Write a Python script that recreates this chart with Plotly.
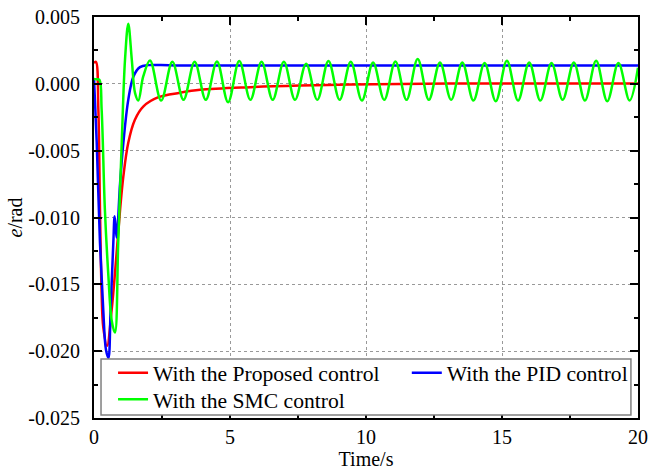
import plotly.graph_objects as go

# values (time in s, error in rad)
proposed_t = [0, 0.07, 0.16, 0.22, 0.28, 0.34, 0.48, 0.65, 0.81, 0.96, 1.08, 1.26, 1.5, 1.81,
              2.37, 3.16, 3.9, 5.74, 7.57, 9.4, 13.1, 20]
proposed_e = [0.00155, 0.00165, -0.0019, -0.0094, -0.0156, -0.0182, -0.0196, -0.0169, -0.0132,
              -0.0094, -0.0069, -0.0044, -0.0027, -0.0017, -0.001, -0.00067, -0.00045, -0.00025,
              -0.00013, -0.00005, 0.00002, 0.00002]

pid_t = [0, 0.1, 0.22, 0.34, 0.44, 0.53, 0.61, 0.71, 0.76, 0.83, 0.96, 1.08, 1.26, 1.45, 1.69,
         2.0, 3.0, 20]
pid_e = [0.00043, -0.0044, -0.0119, -0.0169, -0.0199, -0.0205, -0.0169, -0.0119, -0.0099,
         -0.0115, -0.0074, -0.0044, -0.0012, 0.00055, 0.00125, 0.0014, 0.00137, 0.00137]

smc_t = [0, 0.1, 0.2, 0.28, 0.4, 0.53, 0.65, 0.77, 0.89, 1.02, 1.14, 1.26, 1.39, 1.51, 1.63, 1.81,
         2.06, 2.47, 2.88, 3.29, 3.70, 4.11, 4.52, 4.93, 5.34, 5.75, 6.16, 6.57, 6.98, 7.39,
         7.80, 8.21, 8.62, 9.03, 9.44, 9.85, 10.26, 10.67, 11.08, 11.49, 11.90, 12.31, 12.72,
         13.13, 13.54, 13.95, 14.36, 14.77, 15.18, 15.59, 16.00, 16.41, 16.82, 17.23, 17.64,
         18.05, 18.46, 18.87, 19.28, 19.69, 20.0]
smc_e = [0.00037, 0.00035, 0.0003, -0.0019, -0.0094, -0.0144, -0.0177, -0.0186, -0.0119, -0.0044,
         0.0018, 0.0045, 0.0018, -0.0007, -0.00125, 0.00055,
         0.00175, -0.00125, 0.00165, -0.0012, 0.00165, -0.0012, 0.00167, -0.00137, 0.0017, -0.0012,
         0.00165, -0.0012, 0.00165, -0.0012, 0.0015, -0.0012, 0.0017, -0.0012, 0.00165, -0.00125,
         0.0016, -0.0012, 0.00167, -0.0012, 0.00185, -0.0012, 0.0016, -0.0012, 0.0016, -0.00125,
         0.00155, -0.0013, 0.00172, -0.00125, 0.0016, -0.00125, 0.00155, -0.0012, 0.0016, -0.00125,
         0.00172, -0.0013, 0.00155, -0.00125, 0.0012]

y_ticks = [0.005, 0.0, -0.005, -0.010, -0.015, -0.020, -0.025]
y_labels = ["0.005", "0.000", "-0.005", "-0.010", "-0.015", "-0.020", "-0.025"]

FONT = "Liberation Serif"

fig = go.Figure()
fig.add_trace(go.Scatter(x=proposed_t, y=proposed_e, mode="lines", name="With the Proposed control",
                         line=dict(color="#ff0000", width=2.5, shape="spline"),
                         legend="legend", showlegend=True))
fig.add_trace(go.Scatter(x=pid_t, y=pid_e, mode="lines", name="With the PID control",
                         line=dict(color="#0000ff", width=2.5, shape="spline"),
                         legend="legend2", showlegend=True))
fig.add_trace(go.Scatter(x=smc_t, y=smc_e, mode="lines", name="With the SMC control",
                         line=dict(color="#00ff00", width=2.5, shape="spline"),
                         legend="legend3", showlegend=True))

axis_common = dict(
    showline=True, linecolor="black", linewidth=2, mirror="ticks",
    ticks="inside", ticklen=8, tickwidth=2, tickcolor="black",
    showgrid=True, gridcolor="#999999", griddash="dot", gridwidth=1,
    zeroline=False, automargin=False,
    tickfont=dict(family=FONT, size=20, color="black"),
)

fig.update_xaxes(range=[0, 20], dtick=5, tick0=0, ticklabelstandoff=0,
                 minor=dict(dtick=2.5, ticks="inside", ticklen=4, tickwidth=1.5, tickcolor="black"),
                 title=dict(text="Time/s", font=dict(family=FONT, size=20, color="black"), standoff=2),
                 **axis_common)
fig.update_yaxes(range=[-0.025, 0.005], tickmode="array", tickvals=y_ticks, ticktext=y_labels,
                 ticklabelstandoff=8,
                 minor=dict(tickmode="linear", dtick=0.0025, tick0=0, ticks="inside", ticklen=4,
                            tickwidth=1.5, tickcolor="black"),
                 title=dict(text="<i>e</i>/rad", font=dict(family=FONT, size=20, color="black"), standoff=0),
                 **axis_common)

legend_font = dict(family=FONT, size=21.6, color="black")
legend_style = dict(xanchor="left", yanchor="top", bgcolor="rgba(0,0,0,0)",
                    font=legend_font, borderwidth=0)
fig.update_layout(
    width=649, height=473,
    margin=dict(l=94, r=11, t=17, b=55),
    plot_bgcolor="white", paper_bgcolor="white",
    showlegend=True,
    legend=dict(x=0.035, y=0.164, **legend_style),
    legend2=dict(x=0.575, y=0.164, **legend_style),
    legend3=dict(x=0.035, y=0.098, **legend_style),
    shapes=[dict(type="rect", xref="paper", yref="paper", x0=0.0129, x1=0.987, y0=0.0075, y1=0.147,
                 line=dict(color="#808080", width=1.5), fillcolor="white", layer="above")],
)

fig.write_html("out.html", config={"displayModeBar": False},
               post_script="document.body.style.margin='0';")
